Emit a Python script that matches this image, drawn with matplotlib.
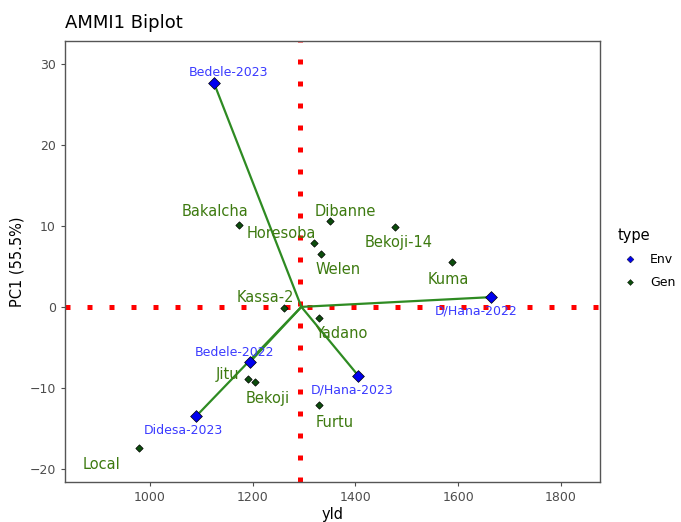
import matplotlib
matplotlib.use("Agg")
import matplotlib.pyplot as plt
from matplotlib.lines import Line2D

# Environment scores (blue)
env_names = ["Bedele-2023", "D/Hana-2022", "D/Hana-2023", "Bedele-2022", "Didesa-2023"]
env_yld = [1125, 1664, 1406, 1195, 1090]
env_pc1 = [27.6, 1.2, -8.5, -6.8, -13.5]
env_lab_x = [1154, 1635, 1393, 1165, 1065]
env_lab_y = [28.9, -0.5, -10.2, -5.6, -15.3]

# Genotype scores (green)
gen_names = ["Bakalcha", "Dibanne", "Horesoba", "Welen", "Bekoji-14", "Kuma",
             "Kassa-2", "Yadano", "Jitu", "Bekoji", "Furtu", "Local"]
gen_yld = [1174, 1350, 1320, 1334, 1477, 1588, 1261, 1329, 1191, 1205, 1329, 979]
gen_pc1 = [10.1, 10.6, 7.9, 6.5, 9.8, 5.5, -0.2, -1.4, -8.9, -9.3, -12.1, -17.4]
gen_lab_x = [1126, 1381, 1255, 1366, 1484, 1581, 1224, 1373, 1152, 1230, 1360, 906]
gen_lab_y = [11.8, 11.8, 9.0, 4.6, 7.9, 3.4, 1.2, -3.3, -8.4, -11.3, -14.2, -19.4]

grand_mean = 1295
mean_line = 1292

fig = plt.figure(figsize=(6.81, 5.22), dpi=100)
ax = fig.add_axes([0.0954, 0.0766, 0.7856, 0.845])

dots = (0, (1, 3.4))
ax.axvline(mean_line, color="red", linestyle=dots, linewidth=3.6, zorder=1)
ax.axhline(0, color="red", linestyle=dots, linewidth=3.6, zorder=1)

for x, y in zip(env_yld, env_pc1):
    ax.plot([grand_mean, x], [0, y], color="#2E8B22", linewidth=1.6, zorder=2)

ax.scatter(gen_yld, gen_pc1, marker="D", s=14, color="#0B4D0B",
           edgecolors="black", linewidths=0.5, zorder=3)
ax.scatter(env_yld, env_pc1, marker="D", s=36, color="#0000EE",
           edgecolors="black", linewidths=0.5, zorder=4)

for n, x, y in zip(gen_names, gen_lab_x, gen_lab_y):
    ax.text(x, y, n, color="#3D7A10", fontsize=10.5, ha="center", va="center", zorder=5)
for n, x, y in zip(env_names, env_lab_x, env_lab_y):
    ax.text(x, y, n, color="#3A3AFF", fontsize=9, ha="center", va="center", zorder=5)

ax.set_xlim(835, 1876)
ax.set_ylim(-21.6, 32.8)
ax.set_xticks([1000, 1200, 1400, 1600, 1800])
ax.set_yticks([-20, -10, 0, 10, 20, 30])
ax.tick_params(colors="#4D4D4D", labelsize=9, length=3)
for s in ax.spines.values():
    s.set_color("#555555")
    s.set_linewidth(1.0)
ax.set_xlabel("yld", fontsize=10.5, labelpad=2)
ax.set_ylabel("PC1 (55.5%)", fontsize=10.5, labelpad=4)
fig.text(0.0954, 0.955, "AMMI1 Biplot", fontsize=13, ha="left", va="center")

handles = [
    Line2D([], [], marker="D", linestyle="", color="#0000EE", markeredgecolor="black",
           markeredgewidth=0.3, markersize=3.5, label="Env"),
    Line2D([], [], marker="D", linestyle="", color="#0B4D0B", markeredgecolor="black",
           markeredgewidth=0.3, markersize=3, label="Gen"),
]
leg = fig.legend(handles=handles, title="type", loc="upper left",
                 bbox_to_anchor=(0.89, 0.585), frameon=False, fontsize=9,
                 title_fontsize=10.5, handletextpad=0.6, labelspacing=0.8)
leg._legend_box.align = "left"

fig.savefig("out.png", dpi=100)
